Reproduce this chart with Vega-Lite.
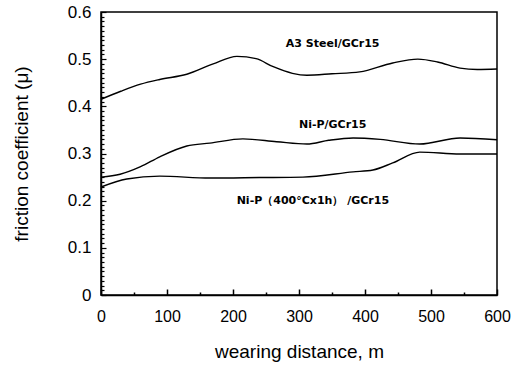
{
  "$schema": "https://vega.github.io/schema/vega-lite/v6.json",
  "width": 396,
  "height": 283,
  "autosize": {"type": "none"},
  "padding": {"left": 101, "top": 12, "right": 14, "bottom": 74},
  "background": "white",
  "config": {
    "view": {"stroke": "black", "strokeWidth": 1.5},
    "font": "Liberation Sans"
  },
  "datasets": {
    "curves": [
      {"series": "A3", "d": 0, "mu": 0.415},
      {"series": "A3", "d": 30, "mu": 0.432},
      {"series": "A3", "d": 60, "mu": 0.447},
      {"series": "A3", "d": 89, "mu": 0.457},
      {"series": "A3", "d": 130, "mu": 0.468},
      {"series": "A3", "d": 170, "mu": 0.49},
      {"series": "A3", "d": 206, "mu": 0.506},
      {"series": "A3", "d": 235, "mu": 0.501},
      {"series": "A3", "d": 261, "mu": 0.484},
      {"series": "A3", "d": 290, "mu": 0.47},
      {"series": "A3", "d": 312, "mu": 0.466},
      {"series": "A3", "d": 350, "mu": 0.469},
      {"series": "A3", "d": 392, "mu": 0.473},
      {"series": "A3", "d": 442, "mu": 0.492},
      {"series": "A3", "d": 480, "mu": 0.5},
      {"series": "A3", "d": 510, "mu": 0.494},
      {"series": "A3", "d": 544, "mu": 0.481},
      {"series": "A3", "d": 570, "mu": 0.478},
      {"series": "A3", "d": 600, "mu": 0.479},
      {"series": "NiP", "d": 0, "mu": 0.25},
      {"series": "NiP", "d": 29, "mu": 0.256},
      {"series": "NiP", "d": 60, "mu": 0.272},
      {"series": "NiP", "d": 89, "mu": 0.293},
      {"series": "NiP", "d": 130, "mu": 0.316},
      {"series": "NiP", "d": 165, "mu": 0.322},
      {"series": "NiP", "d": 215, "mu": 0.331},
      {"series": "NiP", "d": 266, "mu": 0.325},
      {"series": "NiP", "d": 312, "mu": 0.32},
      {"series": "NiP", "d": 345, "mu": 0.328},
      {"series": "NiP", "d": 382, "mu": 0.333},
      {"series": "NiP", "d": 423, "mu": 0.33},
      {"series": "NiP", "d": 483, "mu": 0.32},
      {"series": "NiP", "d": 544, "mu": 0.333},
      {"series": "NiP", "d": 600, "mu": 0.329},
      {"series": "NiP400", "d": 0, "mu": 0.229},
      {"series": "NiP400", "d": 39, "mu": 0.246},
      {"series": "NiP400", "d": 89, "mu": 0.252},
      {"series": "NiP400", "d": 165, "mu": 0.248},
      {"series": "NiP400", "d": 240, "mu": 0.249},
      {"series": "NiP400", "d": 306, "mu": 0.25},
      {"series": "NiP400", "d": 382, "mu": 0.261},
      {"series": "NiP400", "d": 412, "mu": 0.265},
      {"series": "NiP400", "d": 442, "mu": 0.28},
      {"series": "NiP400", "d": 483, "mu": 0.303},
      {"series": "NiP400", "d": 544, "mu": 0.299},
      {"series": "NiP400", "d": 600, "mu": 0.299}
    ],
    "labels": [
      {"text": "A3 Steel/GCr15", "d": 351, "mu": 0.532},
      {"text": "Ni-P/GCr15", "d": 351, "mu": 0.36},
      {"text": "Ni-P（400°Cx1h） /GCr15", "d": 321, "mu": 0.2}
    ]
  },
  "encoding": {
    "x": {
      "field": "d", "type": "quantitative",
      "scale": {"domain": [0, 600], "nice": false},
      "axis": {
        "title": "wearing distance, m",
        "values": [0, 50, 100, 150, 200, 250, 300, 350, 400, 450, 500, 550, 600],
        "labelExpr": "datum.value % 100 == 0 ? format(datum.value, 'd') : ''",
        "labelOverlap": false,
        "grid": false,
        "domainColor": "black", "domainWidth": 1.5,
        "tickColor": "black", "tickWidth": 1.5,
        "tickSize": {"condition": {"test": "datum.value % 100 == 0", "value": -6}, "value": -3},
        "labelPadding": 19,
        "labelFontSize": 16, "labelColor": "black", "labelFlush": false,
        "titleFontSize": 19, "titleFontWeight": "normal", "titleColor": "black",
        "titlePadding": 15
      }
    },
    "y": {
      "field": "mu", "type": "quantitative",
      "scale": {"domain": [0, 0.6], "nice": false},
      "axis": {
        "title": "friction coefficient (μ)",
        "values": [0, 0.01, 0.02, 0.03, 0.04, 0.05, 0.06, 0.07, 0.08, 0.09, 0.1, 0.11, 0.12, 0.13, 0.14, 0.15, 0.16, 0.17, 0.18, 0.19, 0.2, 0.21, 0.22, 0.23, 0.24, 0.25, 0.26, 0.27, 0.28, 0.29, 0.3, 0.31, 0.32, 0.33, 0.34, 0.35, 0.36, 0.37, 0.38, 0.39, 0.4, 0.41, 0.42, 0.43, 0.44, 0.45, 0.46, 0.47, 0.48, 0.49, 0.5, 0.51, 0.52, 0.53, 0.54, 0.55, 0.56, 0.57, 0.58, 0.59, 0.6],
        "labelExpr": "round(datum.value * 100) % 10 == 0 ? format(datum.value, '.1~f') : ''",
        "labelOverlap": false,
        "grid": false,
        "domainColor": "black", "domainWidth": 1.5,
        "tickColor": "black", "tickWidth": 1.2,
        "tickSize": {"condition": {"test": "round(datum.value * 100) % 10 == 0", "value": -5}, "value": -3},
        "labelPadding": 15,
        "labelFontSize": 17, "labelColor": "black", "labelFlush": false,
        "titleFontSize": 19, "titleFontWeight": "normal", "titleColor": "black",
        "titlePadding": 36
      }
    }
  },
  "layer": [
    {
      "data": {"name": "curves"},
      "mark": {"type": "line", "color": "black", "strokeWidth": 1.4, "interpolate": "monotone"},
      "encoding": {
        "detail": {"field": "series"}
      }
    },
    {
      "data": {"name": "labels"},
      "mark": {"type": "text", "font": "DejaVu Sans", "fontWeight": "bold", "fontSize": 11, "color": "black", "align": "center", "baseline": "middle"},
      "encoding": {
        "text": {"field": "text"}
      }
    }
  ]
}
